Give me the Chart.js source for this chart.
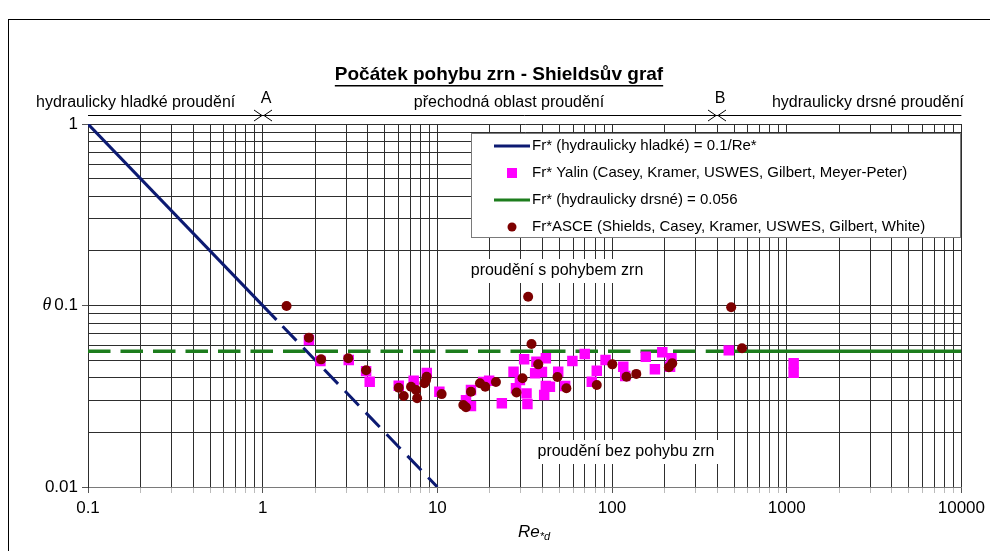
<!DOCTYPE html>
<html>
<head>
<meta charset="utf-8">
<script src="https://cdn.jsdelivr.net/npm/chart.js@4.4.1/dist/chart.umd.min.js"></script>
<style>
html,body{margin:0;padding:0;background:#fff;}
#wrap{position:relative;width:990px;height:551px;}
canvas{display:block;}
</style>
</head>
<body>
<div id="wrap"><canvas id="c" width="990" height="551"></canvas></div>
<script>
// ---------- data ----------
const chartTitle = 'Počátek pohybu zrn - Shieldsův graf';
const zoneLabels = ['hydraulicky hladké proudění', 'přechodná oblast proudění', 'hydraulicky drsné proudění'];
const zoneMarkLabels = ['A', 'B'];
const zoneMarkRe = [1, 400];
const noteAbove = 'proudění s pohybem zrn';
const noteBelow = 'proudění bez pohybu zrn';

const seriesNames = [
  'Fr* (hydraulicky hladké) = 0.1/Re*',
  'Fr* Yalin (Casey, Kramer, USWES, Gilbert, Meyer-Peter)',
  'Fr* (hydraulicky drsné) = 0.056',
  'Fr*ASCE (Shields, Casey, Kramer, USWES, Gilbert, White)'
];

// smooth-regime line (solid part, then dashed continuation)
const smoothRe = [0.1, 1.2];
const smoothTheta = [1, 0.0833];
const smoothDashRe = [1.3, 10];
const smoothDashTheta = [0.0769, 0.01];

// rough-regime line (dashed part, then solid part)
const roughDashRe = [0.1, 300];
const roughDashTheta = [0.056, 0.056];
const roughRe = [344, 10000];
const roughTheta = [0.056, 0.056];

// Yalin points
const yalinRe = [1.84, 2.14, 3.11, 3.91, 4.10, 6.01, 7.32, 8.7, 10.27, 14.59, 15.58, 15.58, 18.3, 19.8, 23.4, 27.3, 28.2, 29.7, 31.4, 32.4, 32.8, 36.3, 36.9, 39.7, 40.9, 41.8, 41.8, 44.1, 49.2, 53.9, 59.3, 69.8, 76.6, 81.8, 91.8, 116, 119, 156, 176, 194, 215, 219, 466, 1096, 1096];
const yalinTheta = [0.0645, 0.0494, 0.0501, 0.0435, 0.0380, 0.0361, 0.0385, 0.0425, 0.0335, 0.0301, 0.0342, 0.0279, 0.0379, 0.0385, 0.0289, 0.0432, 0.0350, 0.0389, 0.0505, 0.0328, 0.0287, 0.0423, 0.0490, 0.0430, 0.0321, 0.0512, 0.0360, 0.0357, 0.0432, 0.0360, 0.0494, 0.0540, 0.0380, 0.0437, 0.0501, 0.0460, 0.0409, 0.0522, 0.0445, 0.0552, 0.0460, 0.0512, 0.0566, 0.0480, 0.0426];

// ASCE points
const asceRe = [1.37, 1.84, 2.16, 3.09, 3.91, 6.01, 6.42, 7.07, 7.55, 7.66, 8.43, 8.62, 8.69, 10.58, 14.08, 14.59, 15.58, 17.54, 18.81, 21.65, 28.39, 30.72, 33.1, 34.6, 37.8, 48.7, 54.8, 81.8, 100.4, 121, 137.7, 211.7, 221.2, 481, 555];
const asceTheta = [0.0994, 0.0665, 0.0505, 0.0512, 0.0440, 0.0352, 0.0317, 0.0357, 0.0342, 0.0308, 0.0373, 0.0389, 0.0405, 0.0325, 0.0283, 0.0275, 0.0335, 0.0373, 0.0357, 0.0379, 0.0332, 0.0397, 0.1118, 0.0614, 0.0474, 0.0404, 0.0350, 0.0365, 0.0474, 0.0405, 0.0420, 0.0457, 0.0480, 0.0977, 0.0581];

// axis tick values (log grid: 1..9 per decade)
const xDecades = [0.1, 1, 10, 100, 1000];
const yDecades = [0.01, 0.1];
const minorSteps = [1, 2, 3, 4, 5, 6, 7, 8, 9];
const xLast = 10000, yLast = 1;

// ---------- helpers ----------
const clean = v => Number(v.toPrecision(6));
const xTickValues = xDecades.flatMap(d => minorSteps.map(m => clean(d * m))).concat([xLast]);
const yTickValues = yDecades.flatMap(d => minorSteps.map(m => clean(d * m))).concat([yLast]);
const isPow10 = v => Math.abs(Math.log10(v) - Math.round(Math.log10(v))) < 1e-9;
const pts = (xs, ys) => xs.map((x, i) => ({x: x, y: ys[i]}));

const NAVY = '#0c1a72';
const GREEN = '#1d7d1d';
const MAGENTA = '#ff00ff';
const MAROON = '#7d0000';
const FONT = '"Liberation Sans", Arial, sans-serif';

const deco = {
  id: 'deco',
  beforeDraw(chart) {
    const c = chart.ctx;
    c.save();
    c.fillStyle = '#fff';
    c.fillRect(0, 0, chart.width, chart.height);
    c.strokeStyle = '#000';
    c.lineWidth = 1;
    c.strokeRect(8.5, 19.5, 990, 540);
    c.restore();
  },
  afterDraw(chart) {
    const c = chart.ctx, xs = chart.scales.x, ys = chart.scales.y, ca = chart.chartArea;
    c.save();
    c.fillStyle = '#000';
    c.textBaseline = 'middle';
    // title
    c.font = 'bold 19px ' + FONT;
    c.textAlign = 'center';
    c.fillText(chartTitle, 499, 75);
    const tw = c.measureText(chartTitle).width;
    c.fillRect(499 - tw / 2, 85, tw, 1.5);

    // zone labels
    c.font = '16px ' + FONT;
    c.textAlign = 'left';
    c.fillText(zoneLabels[0], 36, 103);
    c.textAlign = 'center';
    c.fillText(zoneLabels[1], 509, 103);
    c.textAlign = 'right';
    c.fillText(zoneLabels[2], 964, 103);

    // zone line with markers
    c.strokeStyle = '#000';
    c.lineWidth = 1;
    c.beginPath();
    c.moveTo(ca.left, 115.5);
    c.lineTo(ca.right, 115.5);
    c.stroke();
    zoneMarkRe.forEach((re, i) => {
      const px = Math.round(xs.getPixelForValue(re));
      c.beginPath();
      c.moveTo(px - 9, 110); c.lineTo(px - 1, 115.5); c.lineTo(px - 9, 121);
      c.moveTo(px + 9, 110); c.lineTo(px + 1, 115.5); c.lineTo(px + 9, 121);
      c.stroke();
      c.textAlign = 'center';
      c.fillText(zoneMarkLabels[i], px + 3, 99);
    });

    // notes with white background
    const note = (t, cx, cy) => {
      c.font = '16px ' + FONT;
      const w = c.measureText(t).width;
      c.fillStyle = '#fff';
      c.fillRect(cx - w / 2 - 4, cy - 12, w + 8, 24);
      c.fillStyle = '#000';
      c.textAlign = 'center';
      c.fillText(t, cx, cy);
    };
    note(noteAbove, 557, 271);
    note(noteBelow, 626, 452);

    // legend
    const lx = 471.5, ly = 133.5, lw = 489, lh = 104;
    c.fillStyle = '#fff';
    c.fillRect(lx, ly, lw, lh);
    c.strokeStyle = '#7a7a7a';
    c.lineWidth = 1;
    c.strokeRect(lx, ly, lw, lh);
    const rows = [146, 173, 200, 227];
    const kinds = [
      {type: 'line', color: NAVY},
      {type: 'rect', color: MAGENTA},
      {type: 'line', color: GREEN},
      {type: 'circle', color: MAROON}
    ];
    c.font = '15px ' + FONT;
    seriesNames.forEach((name, i) => {
      const y = rows[i], k = kinds[i];
      if (k.type === 'line') {
        c.strokeStyle = k.color; c.lineWidth = 3;
        c.beginPath(); c.moveTo(494, y); c.lineTo(530, y); c.stroke();
      } else if (k.type === 'rect') {
        c.fillStyle = k.color; c.fillRect(507, y - 5, 10, 10);
      } else {
        c.fillStyle = k.color; c.beginPath(); c.arc(512, y, 4.5, 0, Math.PI * 2); c.fill();
      }
      c.fillStyle = '#000';
      c.textAlign = 'left';
      c.fillText(name, 532, y);
    });

    // axis titles
    c.fillStyle = '#000';
    c.font = 'italic 18px "Liberation Serif", "DejaVu Serif", serif';
    c.textAlign = 'center';
    c.fillText('θ', 47, ys.getPixelForValue(0.1));
    c.font = 'italic 17px ' + FONT;
    c.textAlign = 'left';
    c.fillText('Re', 518, 532);
    const rw = c.measureText('Re').width;
    c.font = 'italic 11px ' + FONT;
    c.fillText('*d', 518 + rw, 537);
    c.restore();
  }
};

new Chart(document.getElementById('c'), {
  type: 'scatter',
  data: {
    datasets: [
      {label: seriesNames[3], data: pts(asceRe, asceTheta), pointStyle: 'circle', pointRadius: 5,
       backgroundColor: MAROON, borderColor: MAROON, borderWidth: 0, order: 0},
      {label: seriesNames[1], data: pts(yalinRe, yalinTheta), pointStyle: 'rect', pointRadius: 7.4,
       backgroundColor: MAGENTA, borderColor: MAGENTA, borderWidth: 0, order: 1},
      {label: seriesNames[0], data: pts(smoothRe, smoothTheta), showLine: true, pointRadius: 0,
       borderColor: NAVY, borderWidth: 3, order: 2},
      {label: seriesNames[0] + ' (dashed)', data: pts(smoothDashRe, smoothDashTheta), showLine: true, pointRadius: 0,
       borderColor: NAVY, borderWidth: 3, borderDash: [20, 10], order: 3},
      {label: seriesNames[2] + ' (dashed)', data: pts(roughDashRe, roughDashTheta), showLine: true, pointRadius: 0,
       borderColor: GREEN, borderWidth: 3.5, borderDash: [22.5, 10], order: 4},
      {label: seriesNames[2], data: pts(roughRe, roughTheta), showLine: true, pointRadius: 0,
       borderColor: GREEN, borderWidth: 3.5, order: 5}
    ]
  },
  options: {
    responsive: false,
    animation: false,
    events: [],
    layout: {padding: {top: 124, right: 27, left: 0, bottom: 0}},
    plugins: {legend: {display: false}, tooltip: {enabled: false}, title: {display: false}},
    scales: {
      x: {
        type: 'logarithmic', min: 0.1, max: 10000,
        afterBuildTicks: s => { s.ticks = xTickValues.map(v => ({value: v, major: isPow10(v)})); },
        afterFit: s => { s.height = 64; },
        border: {color: '#7a7a7a', width: 1},
        grid: {color: '#2e2e2e', lineWidth: 1, tickLength: 6,
               tickColor: ctx => (ctx.tick && isPow10(ctx.tick.value)) ? '#555' : '#bbb'},
        ticks: {autoSkip: false, maxRotation: 0, padding: 5, color: '#000',
                font: {family: FONT, size: 17},
                callback: v => isPow10(v) ? String(clean(v)) : ''}
      },
      y: {
        type: 'logarithmic', min: 0.01, max: 1,
        afterBuildTicks: s => { s.ticks = yTickValues.map(v => ({value: v, major: isPow10(v)})); },
        afterFit: s => { s.width = 88; },
        border: {color: '#2e2e2e', width: 1},
        grid: {color: '#2e2e2e', lineWidth: 1, tickLength: 6,
               tickColor: ctx => (ctx.tick && isPow10(ctx.tick.value)) ? '#555' : 'rgba(0,0,0,0)'},
        ticks: {autoSkip: false, padding: 4, color: '#000',
                font: {family: FONT, size: 17},
                callback: v => isPow10(v) ? String(clean(v)) : ''}
      }
    }
  },
  plugins: [deco]
});
</script>
</body>
</html>
